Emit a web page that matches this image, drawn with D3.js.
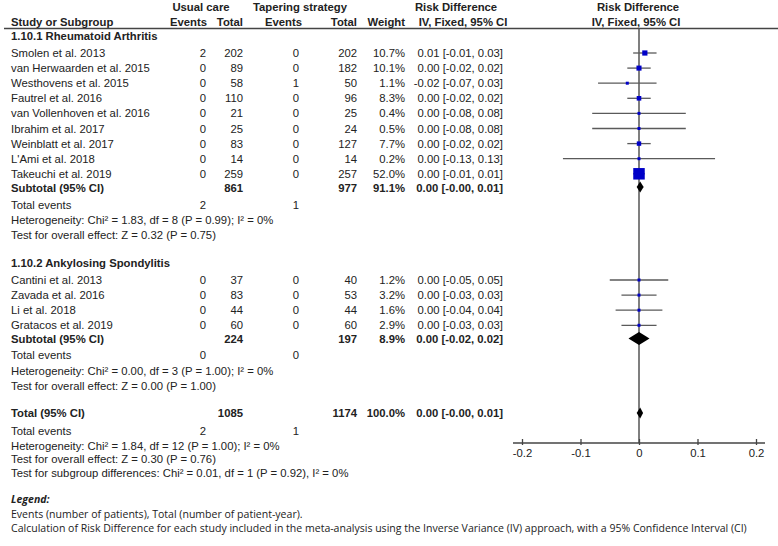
<!DOCTYPE html>
<html lang="en">
<head>
<meta charset="UTF-8">
<title>Forest plot - Risk Difference</title>
<script src="https://d3js.org/d3.v7.min.js"></script>
<style>
  body { margin: 0; background: #fff; }
  svg { display: block; }
  text { font-family: "Liberation Sans", Arial, sans-serif; font-size: 11.3px; fill: #222; }
  .bold { font-weight: bold; }
  .legend text { font-family: "Open Sans", "Noto Sans", sans-serif; font-size: 10px; }
</style>
</head>
<body>
<svg id="chart" width="778" height="546"></svg>
<script>
// Rheumatoid Arthritis studies
const raStudies = ["Smolen et al. 2013", "van Herwaarden et al. 2015", "Westhovens et al. 2015", "Fautrel et al. 2016",
                   "van Vollenhoven et al. 2016", "Ibrahim et al. 2017", "Weinblatt et al. 2017", "L'Ami et al. 2018", "Takeuchi et al. 2019"];
const raEventsUC = [2, 0, 0, 0, 0, 0, 0, 0, 0];
const raTotalUC = [202, 89, 58, 110, 21, 25, 83, 14, 259];
const raEventsTS = [0, 0, 1, 0, 0, 0, 0, 0, 0];
const raTotalTS = [202, 182, 50, 96, 25, 24, 127, 14, 257];
const raWeight = [10.7, 10.1, 1.1, 8.3, 0.4, 0.5, 7.7, 0.2, 52.0];
const raRD = [0.01, 0.00, -0.02, 0.00, 0.00, 0.00, 0.00, 0.00, 0.00];
const raLow = [-0.01, -0.02, -0.07, -0.02, -0.08, -0.08, -0.02, -0.13, -0.01];
const raHigh = [0.03, 0.02, 0.03, 0.02, 0.08, 0.08, 0.02, 0.13, 0.01];

// Ankylosing Spondylitis studies
const asStudies = ["Cantini et al. 2013", "Zavada et al. 2016", "Li et al. 2018", "Gratacos et al. 2019"];
const asEventsUC = [0, 0, 0, 0];
const asTotalUC = [37, 83, 44, 60];
const asEventsTS = [0, 0, 0, 0];
const asTotalTS = [40, 53, 44, 60];
const asWeight = [1.2, 3.2, 1.6, 2.9];
const asRD = [0.00, 0.00, 0.00, 0.00];
const asLow = [-0.05, -0.03, -0.04, -0.03];
const asHigh = [0.05, 0.03, 0.04, 0.03];

// pooled estimates: [estimate, lower, upper], weight and displayed CI text
const raPooled = [0.002, -0.004, 0.008];
const asPooled = [0.00, -0.018, 0.018];
const totalPooled = [0.002, -0.004, 0.007];
const pooledWeights = ["91.1%", "8.9%", "100.0%"];
const pooledText = ["0.00 [-0.00, 0.01]", "0.00 [-0.02, 0.02]", "0.00 [-0.00, 0.01]"];

const xTicks = [-0.2, -0.1, 0, 0.1, 0.2];
const xTickLabels = ["-0.2", "-0.1", "0", "0.1", "0.2"];

const svg = d3.select("#chart");
const x = d3.scaleLinear().domain([-0.2, 0.2]).range([522, 756]);
const boxSize = d3.scaleSqrt().domain([0, 52]).range([0, 11.5]);

// column anchors
const col = { name: 11, evUC: 206, totUC: 243, evTS: 299, totTS: 357, weight: 405, ci: 503 };

function txt(xp, yp, s, anchor, cls) {
  svg.append("text").attr("x", xp).attr("y", yp).attr("dy", "0.36em")
    .attr("text-anchor", anchor || "start").attr("class", cls || null).text(s);
}

// header
txt(201, 7, "Usual care", "middle", "bold");
txt(300, 7, "Tapering strategy", "middle", "bold");
txt(456, 7, "Risk Difference", "middle", "bold");
txt(638, 7, "Risk Difference", "middle", "bold");
txt(col.name, 22, "Study or Subgroup", "start", "bold");
txt(col.evUC + 1, 22, "Events", "end", "bold");
txt(col.totUC, 22, "Total", "end", "bold");
txt(col.evTS + 3, 22, "Events", "end", "bold");
txt(col.totTS, 22, "Total", "end", "bold");
txt(col.weight, 22, "Weight", "end", "bold");
txt(463, 22, "IV, Fixed, 95% CI", "middle", "bold");
txt(636, 22, "IV, Fixed, 95% CI", "middle", "bold");
svg.append("line").attr("x1", 4).attr("x2", 778).attr("y1", 28.5).attr("y2", 28.5)
  .attr("stroke", "#444").attr("stroke-width", 1.3);

// zero line
svg.append("line").attr("x1", x(0)).attr("x2", x(0)).attr("y1", 28.5).attr("y2", 443)
  .attr("stroke", "#555").attr("stroke-width", 1.5);

const fmt = v => (v < 0 ? "-" : "") + Math.abs(v).toFixed(2);
const ciText = (e, l, h) => `${fmt(e)} [${fmt(l)}, ${fmt(h)}]`;

function drawStudies(names, evUC, totUC, evTS, totTS, w, rd, lo, hi, y0) {
  names.forEach((n, i) => {
    const y = y0 + i * 15.1;
    txt(col.name, y, n);
    txt(col.evUC, y, evUC[i], "end");
    txt(col.totUC, y, totUC[i], "end");
    txt(col.evTS, y, evTS[i], "end");
    txt(col.totTS, y, totTS[i], "end");
    txt(col.weight, y, w[i].toFixed(1) + "%", "end");
    txt(col.ci, y, ciText(rd[i], lo[i], hi[i]), "end");
    svg.append("line").attr("x1", x(lo[i])).attr("x2", x(hi[i])).attr("y1", y).attr("y2", y)
      .attr("stroke", "#5a5a5a").attr("stroke-width", 1.3);
    const s = Math.max(3, boxSize(w[i]));
    svg.append("rect").attr("x", x(rd[i]) - s / 2).attr("y", y - s / 2)
      .attr("width", s).attr("height", s).attr("fill", "#0000c8");
  });
}

function diamond(p, y, h) {
  const pts = [[x(p[1]), y], [x(p[0]), y - h / 2], [x(p[2]), y], [x(p[0]), y + h / 2]];
  svg.append("polygon").attr("points", pts.map(d => d.join(",")).join(" ")).attr("fill", "#000");
}

// group 1
txt(col.name, 36, "1.10.1 Rheumatoid Arthritis", "start", "bold");
drawStudies(raStudies, raEventsUC, raTotalUC, raEventsTS, raTotalTS, raWeight, raRD, raLow, raHigh, 53);
txt(col.name, 188, "Subtotal (95% CI)", "start", "bold");
txt(col.totUC, 188, d3.sum(raTotalUC), "end", "bold");
txt(col.totTS, 188, d3.sum(raTotalTS), "end", "bold");
txt(col.weight, 188, pooledWeights[0], "end", "bold");
txt(col.ci, 188, pooledText[0], "end", "bold");
diamond(raPooled, 187, 11);
txt(col.name, 205, "Total events");
txt(col.evUC, 205, d3.sum(raEventsUC), "end");
txt(col.evTS, 205, d3.sum(raEventsTS), "end");
txt(col.name, 220, "Heterogeneity: Chi\u00b2 = 1.83, df = 8 (P = 0.99); I\u00b2 = 0%");
txt(col.name, 235, "Test for overall effect: Z = 0.32 (P = 0.75)");

// group 2
txt(col.name, 263, "1.10.2 Ankylosing Spondylitis", "start", "bold");
drawStudies(asStudies, asEventsUC, asTotalUC, asEventsTS, asTotalTS, asWeight, asRD, asLow, asHigh, 280);
txt(col.name, 339, "Subtotal (95% CI)", "start", "bold");
txt(col.totUC, 339, d3.sum(asTotalUC), "end", "bold");
txt(col.totTS, 339, d3.sum(asTotalTS), "end", "bold");
txt(col.weight, 339, pooledWeights[1], "end", "bold");
txt(col.ci, 339, pooledText[1], "end", "bold");
diamond(asPooled, 338.5, 13);
txt(col.name, 355, "Total events");
txt(col.evUC, 355, d3.sum(asEventsUC), "end");
txt(col.evTS, 355, d3.sum(asEventsTS), "end");
txt(col.name, 371, "Heterogeneity: Chi\u00b2 = 0.00, df = 3 (P = 1.00); I\u00b2 = 0%");
txt(col.name, 386, "Test for overall effect: Z = 0.00 (P = 1.00)");

// overall
txt(col.name, 413, "Total (95% CI)", "start", "bold");
txt(col.totUC, 413, d3.sum(raTotalUC) + d3.sum(asTotalUC), "end", "bold");
txt(col.totTS, 413, d3.sum(raTotalTS) + d3.sum(asTotalTS), "end", "bold");
txt(col.weight, 413, pooledWeights[2], "end", "bold");
txt(col.ci, 413, pooledText[2], "end", "bold");
diamond(totalPooled, 413, 11);
txt(col.name, 431, "Total events");
txt(col.evUC, 431, d3.sum(raEventsUC) + d3.sum(asEventsUC), "end");
txt(col.evTS, 431, d3.sum(raEventsTS) + d3.sum(asEventsTS), "end");
txt(col.name, 446, "Heterogeneity: Chi\u00b2 = 1.84, df = 12 (P = 1.00); I\u00b2 = 0%");
txt(col.name, 459, "Test for overall effect: Z = 0.30 (P = 0.76)");
txt(col.name, 473, "Test for subgroup differences: Chi\u00b2 = 0.01, df = 1 (P = 0.92), I\u00b2 = 0%");

// axis
const axisG = svg.append("g").attr("transform", "translate(0,443)")
  .call(d3.axisBottom(x).tickValues(xTicks).tickFormat((d, i) => xTickLabels[i]).tickSizeInner(2).tickSizeOuter(0).tickPadding(4));
axisG.select(".domain").remove();
axisG.append("line").attr("x1", x(-0.2) - 9).attr("x2", x(0.2) + 9).attr("stroke", "#444").attr("stroke-width", 1.3);
axisG.selectAll(".tick line").attr("y1", -4).attr("stroke", "#444").attr("stroke-width", 1.3);
axisG.selectAll(".tick text").attr("font-family", "Liberation Sans, Arial, sans-serif").attr("font-size", "11.3px").attr("fill", "#222");

// legend
const lg = svg.append("g").attr("class", "legend");
lg.append("text").attr("x", 11).attr("y", 499).attr("dy", "0.36em")
  .attr("font-weight", "bold").attr("font-style", "italic").text("Legend:");
lg.append("text").attr("x", 11).attr("y", 514).attr("dy", "0.36em")
  .text("Events (number of patients), Total (number of patient-year).");
const last = lg.append("text").attr("x", 11).attr("y", 528).attr("dy", "0.36em")
  .text("Calculation of Risk Difference for each study included in the meta-analysis using the Inverse Variance (IV) approach, with a 95% Confidence Interval (CI)");
const fs = 10 * 737 / last.node().getComputedTextLength();
lg.selectAll("text").style("font-size", fs + "px");
</script>
</body>
</html>
